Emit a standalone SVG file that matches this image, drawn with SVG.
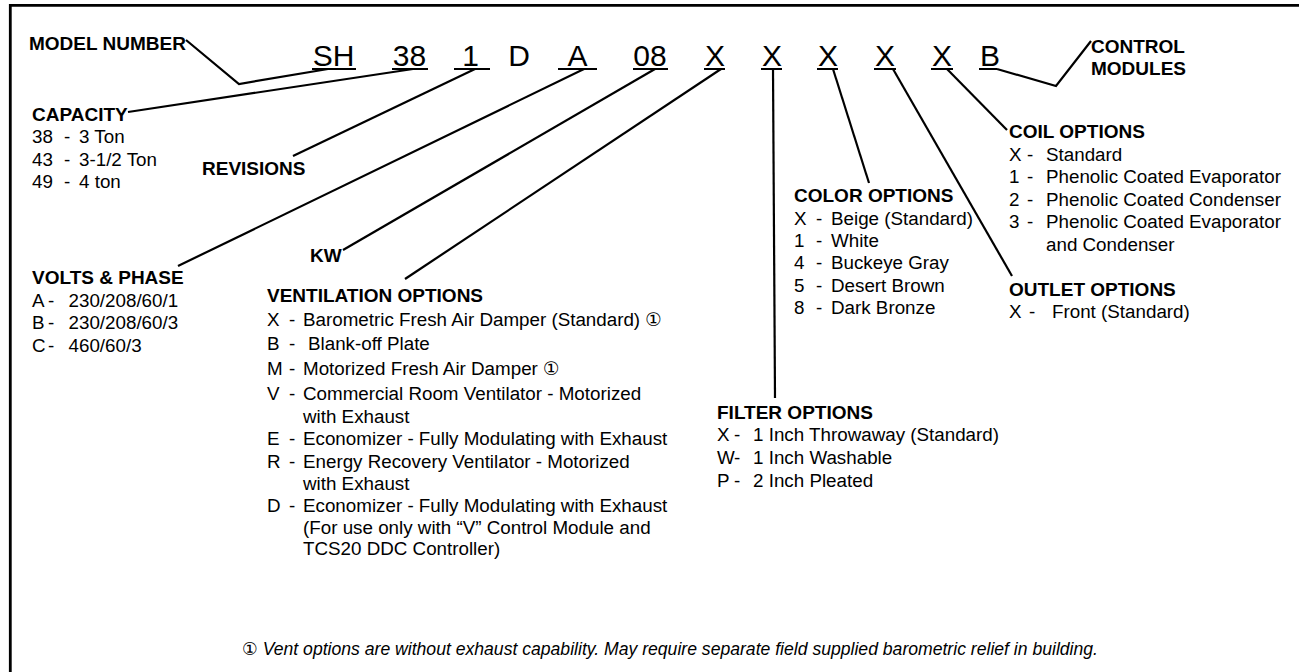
<svg xmlns="http://www.w3.org/2000/svg" width="1299" height="672" viewBox="0 0 1299 672">
<style>
.lb{font-family:"Liberation Sans",Arial,sans-serif;font-weight:bold;font-size:19px;fill:#000}
.tx{font-family:"Liberation Sans",Arial,"DejaVu Sans",sans-serif;font-size:18.8px;fill:#000}
.cd{font-family:"Liberation Sans",Arial,sans-serif;font-size:30px;fill:#000;text-anchor:middle}
.ft{font-family:"Liberation Sans",Arial,"DejaVu Sans",sans-serif;font-style:italic;font-size:18px;fill:#000}
.ul{stroke:#000;stroke-width:1.8;fill:none}
.cn{stroke:#000;stroke-width:2.2;fill:none;stroke-linejoin:miter}
</style>
<rect width="1299" height="672" fill="#fff"/>
<path d="M10.3,672 V5.3 H1299" fill="none" stroke="#000" stroke-width="2.8"/>

<g id="model-number-label"><text class="lb" x="29" y="50">MODEL NUMBER</text></g>

<g id="model-code">
<text class="cd" x="333.5" y="66">SH</text>
<text class="cd" x="409.5" y="66">38</text>
<text class="cd" x="470.5" y="66">1</text>
<text class="cd" x="519" y="66">D</text>
<text class="cd" x="577.5" y="66">A</text>
<text class="cd" x="650" y="66">08</text>
<text class="cd" x="715" y="66">X</text>
<text class="cd" x="772" y="66">X</text>
<text class="cd" x="828" y="66">X</text>
<text class="cd" x="885" y="66">X</text>
<text class="cd" x="942" y="66">X</text>
<text class="cd" x="990" y="66">B</text>
<path class="ul" d="M312,69H356M392,69H428M454,69H490M558,69H597M633,69H668M704,69H725M761,69H782M817,69H838M874,69H896M931,69H953M979,69H997"/>
</g>

<g id="control-modules">
<text class="lb" x="1091" y="53">CONTROL</text>
<text class="lb" x="1091" y="75">MODULES</text>
</g>

<g id="capacity">
<text class="lb" x="32" y="121">CAPACITY</text>
<text class="tx" y="143"><tspan x="32">38</tspan><tspan x="64">-</tspan><tspan x="79">3 Ton</tspan></text>
<text class="tx" y="165.5"><tspan x="32">43</tspan><tspan x="64">-</tspan><tspan x="79">3-1/2 Ton</tspan></text>
<text class="tx" y="188"><tspan x="32">49</tspan><tspan x="64">-</tspan><tspan x="79">4 ton</tspan></text>
</g>

<g id="revisions"><text class="lb" x="202" y="175">REVISIONS</text></g>

<g id="volts-phase">
<text class="lb" x="32" y="284">VOLTS &amp; PHASE</text>
<text class="tx" y="306.5"><tspan x="32">A</tspan><tspan x="48">-</tspan><tspan x="68.5">230/208/60/1</tspan></text>
<text class="tx" y="329"><tspan x="32">B</tspan><tspan x="48">-</tspan><tspan x="68.5">230/208/60/3</tspan></text>
<text class="tx" y="351.5"><tspan x="32">C</tspan><tspan x="48">-</tspan><tspan x="68.5">460/60/3</tspan></text>
</g>

<g id="kw"><text class="lb" x="310" y="262">KW</text></g>

<g id="ventilation-options">
<text class="lb" x="267" y="301.5">VENTILATION OPTIONS</text>
<text class="tx" y="326"><tspan x="267">X</tspan><tspan x="289">-</tspan><tspan x="303">Barometric Fresh Air Damper (Standard) ①</tspan></text>
<text class="tx" y="350"><tspan x="267">B</tspan><tspan x="289">-</tspan><tspan x="308">Blank-off Plate</tspan></text>
<text class="tx" y="375"><tspan x="267">M</tspan><tspan x="289">-</tspan><tspan x="303">Motorized Fresh Air Damper ①</tspan></text>
<text class="tx" y="400"><tspan x="267">V</tspan><tspan x="289">-</tspan><tspan x="303">Commercial Room Ventilator - Motorized</tspan></text>
<text class="tx" x="303" y="422.5">with Exhaust</text>
<text class="tx" y="445"><tspan x="267">E</tspan><tspan x="289">-</tspan><tspan x="303">Economizer - Fully Modulating with Exhaust</tspan></text>
<text class="tx" y="468"><tspan x="267">R</tspan><tspan x="289">-</tspan><tspan x="303">Energy Recovery Ventilator - Motorized</tspan></text>
<text class="tx" x="303" y="490">with Exhaust</text>
<text class="tx" y="512"><tspan x="267">D</tspan><tspan x="289">-</tspan><tspan x="303">Economizer - Fully Modulating with Exhaust</tspan></text>
<text class="tx" x="303" y="533.5">(For use only with “V” Control Module and</text>
<text class="tx" x="303" y="555">TCS20 DDC Controller)</text>
</g>

<g id="filter-options">
<text class="lb" x="717" y="419">FILTER OPTIONS</text>
<text class="tx" y="441"><tspan x="717">X</tspan><tspan x="734">-</tspan><tspan x="753">1 Inch Throwaway (Standard)</tspan></text>
<text class="tx" y="464"><tspan x="717">W</tspan><tspan x="734">-</tspan><tspan x="753">1 Inch Washable</tspan></text>
<text class="tx" y="486.5"><tspan x="717">P</tspan><tspan x="734">-</tspan><tspan x="753">2 Inch Pleated</tspan></text>
</g>

<g id="color-options">
<text class="lb" x="794" y="202">COLOR OPTIONS</text>
<text class="tx" y="225"><tspan x="794">X</tspan><tspan x="816">-</tspan><tspan x="831">Beige (Standard)</tspan></text>
<text class="tx" y="247"><tspan x="794">1</tspan><tspan x="816">-</tspan><tspan x="831">White</tspan></text>
<text class="tx" y="269"><tspan x="794">4</tspan><tspan x="816">-</tspan><tspan x="831">Buckeye Gray</tspan></text>
<text class="tx" y="291.5"><tspan x="794">5</tspan><tspan x="816">-</tspan><tspan x="831">Desert Brown</tspan></text>
<text class="tx" y="313.5"><tspan x="794">8</tspan><tspan x="816">-</tspan><tspan x="831">Dark Bronze</tspan></text>
</g>

<g id="coil-options">
<text class="lb" x="1009" y="138">COIL OPTIONS</text>
<text class="tx" y="160.5"><tspan x="1009">X</tspan><tspan x="1027">-</tspan><tspan x="1046">Standard</tspan></text>
<text class="tx" y="183"><tspan x="1009">1</tspan><tspan x="1027">-</tspan><tspan x="1046">Phenolic Coated Evaporator</tspan></text>
<text class="tx" y="205.5"><tspan x="1009">2</tspan><tspan x="1027">-</tspan><tspan x="1046">Phenolic Coated Condenser</tspan></text>
<text class="tx" y="228"><tspan x="1009">3</tspan><tspan x="1027">-</tspan><tspan x="1046">Phenolic Coated Evaporator</tspan></text>
<text class="tx" x="1046" y="250.5">and Condenser</text>
</g>

<g id="outlet-options">
<text class="lb" x="1009" y="296">OUTLET OPTIONS</text>
<text class="tx" y="318"><tspan x="1009">X</tspan><tspan x="1029">-</tspan><tspan x="1052">Front (Standard)</tspan></text>
</g>

<g id="footnote">
<text class="ft" x="242" y="654.5" textLength="856" lengthAdjust="spacingAndGlyphs">① Vent options are without exhaust capability.  May require separate field supplied barometric relief in building.</text>
</g>

<g id="connectors">
<polyline class="cn" points="186,40 239,84 328,69"/>
<line class="cn" x1="128" y1="112" x2="413" y2="69"/>
<line class="cn" x1="293" y1="156" x2="475" y2="69"/>
<line class="cn" x1="178" y1="266" x2="584" y2="69"/>
<line class="cn" x1="343" y1="250" x2="655" y2="69"/>
<line class="cn" x1="405" y1="279" x2="721" y2="69"/>
<line class="cn" x1="773" y1="69" x2="775" y2="398"/>
<line class="cn" x1="833" y1="69" x2="869" y2="183"/>
<line class="cn" x1="893" y1="69" x2="1012" y2="276"/>
<line class="cn" x1="947" y1="69" x2="1007" y2="130"/>
<polyline class="cn" points="997,69 1056,86 1091,41"/>
</g>
</svg>
